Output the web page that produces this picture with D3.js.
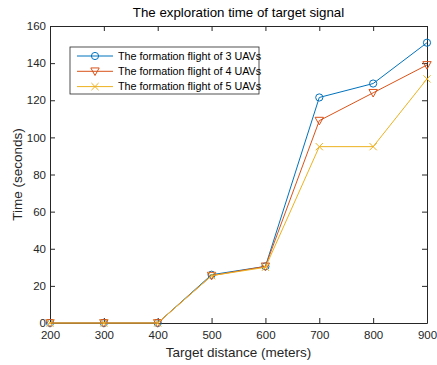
<!DOCTYPE html>
<html><head><meta charset="utf-8">
<script src="https://cdn.jsdelivr.net/npm/d3@7"></script>
<style>body{margin:0;background:#fff}svg{display:block;font-family:"Liberation Sans",Arial,sans-serif}</style>
</head><body>
<script>
const distances = [200, 300, 400, 500, 600, 700, 800, 900];
const uav3 = [0, 0, 0, 26, 30.5, 121.5, 129, 151];
const uav4 = [0, 0, 0, 25.5, 30.5, 109, 124, 139];
const uav5 = [0, 0, 0, 25.5, 30, 95, 95, 131.5];
const seriesNames = ["The formation flight of 3 UAVs", "The formation flight of 4 UAVs", "The formation flight of 5 UAVs"];
const xTicks = [200, 300, 400, 500, 600, 700, 800, 900];
const yTicks = [0, 20, 40, 60, 80, 100, 120, 140, 160];

const W = 437, H = 365;
const m = {left: 50, right: 10, top: 26, bottom: 42};
const svg = d3.select("body").append("svg").attr("width", W).attr("height", H);
const x = d3.scaleLinear().domain([200, 900]).range([m.left, W - m.right]);
const y = d3.scaleLinear().domain([0, 160]).range([H - m.bottom, m.top]);
const colors = ["#0072BD", "#D95319", "#EDB120"];
const markers = ["circle", "triangle", "cross"];
const series = [uav3, uav4, uav5];

const ax = svg.append("g").attr("transform", `translate(0,${H - m.bottom})`)
  .call(d3.axisBottom(x).tickValues(xTicks).tickSize(-5).tickPadding(8).tickSizeOuter(0));
const ay = svg.append("g").attr("transform", `translate(${m.left},0)`)
  .call(d3.axisLeft(y).tickValues(yTicks).tickSize(-5).tickPadding(4).tickSizeOuter(0));
const axTop = svg.append("g").attr("transform", `translate(0,${m.top})`)
  .call(d3.axisTop(x).tickValues(xTicks).tickSize(-5).tickFormat("").tickSizeOuter(0));
const ayRight = svg.append("g").attr("transform", `translate(${W - m.right},0)`)
  .call(d3.axisRight(y).tickValues(yTicks).tickSize(-5).tickFormat("").tickSizeOuter(0));
[ax, ay, axTop, ayRight].forEach(g => {
  g.selectAll("path.domain").attr("stroke", "#262626").attr("stroke-width", 1);
  g.selectAll("line").attr("stroke", "#262626");
  g.selectAll("text").attr("fill", "#262626").style("font-size", "11.5px").style("font-family", "Liberation Sans, Arial, sans-serif");
});

const line = d3.line().x((d, i) => x(distances[i])).y(d => y(d));

function drawMarker(g, type, cx, cy, c) {
  if (type === "circle") {
    g.append("circle").attr("cx", cx).attr("cy", cy).attr("r", 3.6).attr("fill", "none").attr("stroke", c).attr("stroke-width", 1);
  } else if (type === "triangle") {
    const s = 4.2;
    g.append("path").attr("d", `M${cx - s},${cy - s * 0.8}L${cx + s},${cy - s * 0.8}L${cx},${cy + s}Z`).attr("fill", "none").attr("stroke", c).attr("stroke-width", 1);
  } else {
    const s = 3.6;
    g.append("path").attr("d", `M${cx - s},${cy - s}L${cx + s},${cy + s}M${cx - s},${cy + s}L${cx + s},${cy - s}`).attr("fill", "none").attr("stroke", c).attr("stroke-width", 1);
  }
}

series.forEach((s, k) => {
  const g = svg.append("g");
  g.append("path").datum(s).attr("d", line).attr("fill", "none").attr("stroke", colors[k]).attr("stroke-width", 1);
  s.forEach((v, i) => drawMarker(g, markers[k], x(distances[i]), y(v), colors[k]));
});

const lg = svg.append("g").attr("transform", "translate(70,47)");
lg.append("rect").attr("width", 189).attr("height", 47).attr("fill", "#fff").attr("stroke", "#262626").attr("stroke-width", 0.8);
seriesNames.forEach((n, k) => {
  const yy = 9 + k * 15.3;
  lg.append("line").attr("x1", 7).attr("x2", 43).attr("y1", yy).attr("y2", yy).attr("stroke", colors[k]).attr("stroke-width", 1);
  drawMarker(lg, markers[k], 25, yy, colors[k]);
  lg.append("text").attr("x", 48).attr("y", yy + 3.8).text(n).attr("fill", "#000").style("font-size", "10.8px");
});

svg.append("text").attr("x", (m.left + W - m.right) / 2).attr("y", 17).attr("text-anchor", "middle")
  .style("font-size", "13.3px").attr("fill", "#000").text("The exploration time of target signal");
svg.append("text").attr("x", (m.left + W - m.right) / 2).attr("y", 357).attr("text-anchor", "middle")
  .style("font-size", "13.5px").attr("fill", "#262626").text("Target distance (meters)");
svg.append("text").attr("transform", `translate(22,${(m.top + H - m.bottom) / 2}) rotate(-90)`).attr("text-anchor", "middle")
  .style("font-size", "13.5px").attr("fill", "#262626").text("Time (seconds)");
</script>
</body></html>
